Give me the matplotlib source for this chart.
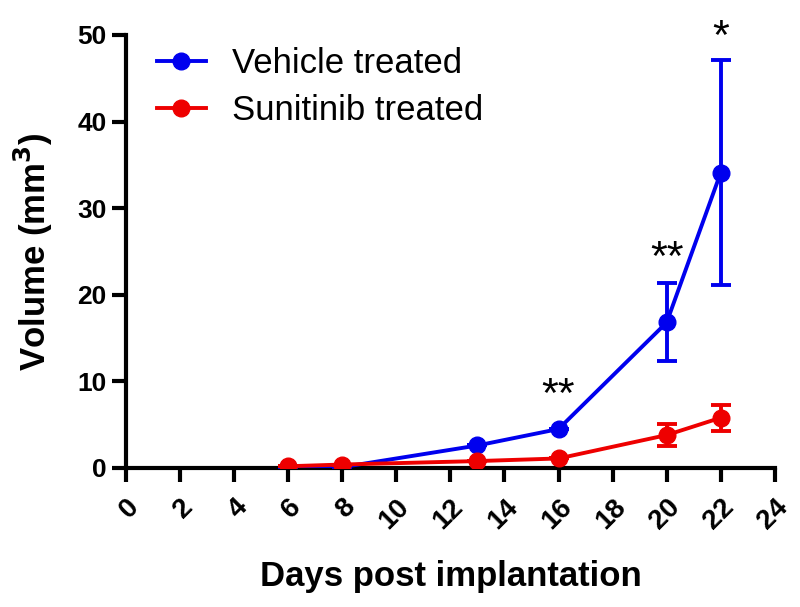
import numpy as np
import matplotlib
matplotlib.use("Agg")
from matplotlib import pyplot as plt

# data
days_vehicle = [6, 8, 13, 16, 20, 22]
vol_vehicle = [0.1, 0.1, 2.6, 4.5, 16.8, 34.1]
err_vehicle = [0.0, 0.0, 0.0, 0.0, 4.5, 13.0]

days_suni = [6, 8, 13, 16, 20, 22]
vol_suni = [0.2, 0.4, 0.8, 1.1, 3.8, 5.8]
err_suni = [0.0, 0.0, 0.0, 0.0, 1.3, 1.5]

# significance marks
sig_days = [16, 20, 22]
sig_labels = ['**', '**', '*']
sig_y = [7.0, 22.9, 48.4]

xticks = list(range(0, 25, 2))
yticks = [0, 10, 20, 30, 40, 50]

plt.rcParams['font.family'] = ['Liberation Sans', 'DejaVu Sans']

fig = plt.figure(figsize=(8.0, 6.07), dpi=100)
ax = fig.add_axes([0.1575, 0.229, 0.811, 0.7135])

eb_v = ax.errorbar(days_vehicle, vol_vehicle, yerr=err_vehicle,
                   color='#0000ee', marker='o', markersize=12, linewidth=2.8,
                   elinewidth=2.8, capsize=7.5, capthick=2.8, zorder=3)
eb_s = ax.errorbar(days_suni, vol_suni, yerr=err_suni,
                   color='#ee0000', marker='o', markersize=12, linewidth=2.8,
                   elinewidth=2.8, capsize=7.5, capthick=2.8, zorder=4)

for d, lab, y in zip(sig_days, sig_labels, sig_y):
    ax.text(d, y, lab, ha='center', va='baseline', fontsize=31, color='black')

ax.set_xlim(0, 24)
ax.set_ylim(0, 50)
ax.set_xticks(xticks)
ax.set_yticks(yticks)
ax.set_xticklabels([str(t) for t in xticks], rotation=45, ha='right',
                   rotation_mode='anchor', fontsize=20, fontweight='bold')
ax.set_yticklabels([str(t) for t in yticks], fontsize=19, fontweight='bold')

for s in ['top', 'right']:
    ax.spines[s].set_visible(False)
for s in ['left', 'bottom']:
    ax.spines[s].set_linewidth(3)
ax.tick_params(axis='both', direction='out', length=10, width=3)
ax.tick_params(axis='x', pad=9)
ax.tick_params(axis='y', pad=4)

ax.set_xlabel('Days post implantation', fontsize=25, fontweight='bold', labelpad=18)
ax.set_ylabel('Volume (mm$^\\mathbf{3}$)', fontsize=25, fontweight='bold', labelpad=16)

ax.legend([eb_v.lines[0], eb_s.lines[0]], ['Vehicle treated', 'Sunitinib treated'],
          loc='upper left', bbox_to_anchor=(0.048, 0.972), frameon=False,
          fontsize=25, handlelength=1.4, handletextpad=0.75,
          borderaxespad=0, borderpad=0, labelspacing=0.4)

fig.savefig('out.png', dpi=100)
